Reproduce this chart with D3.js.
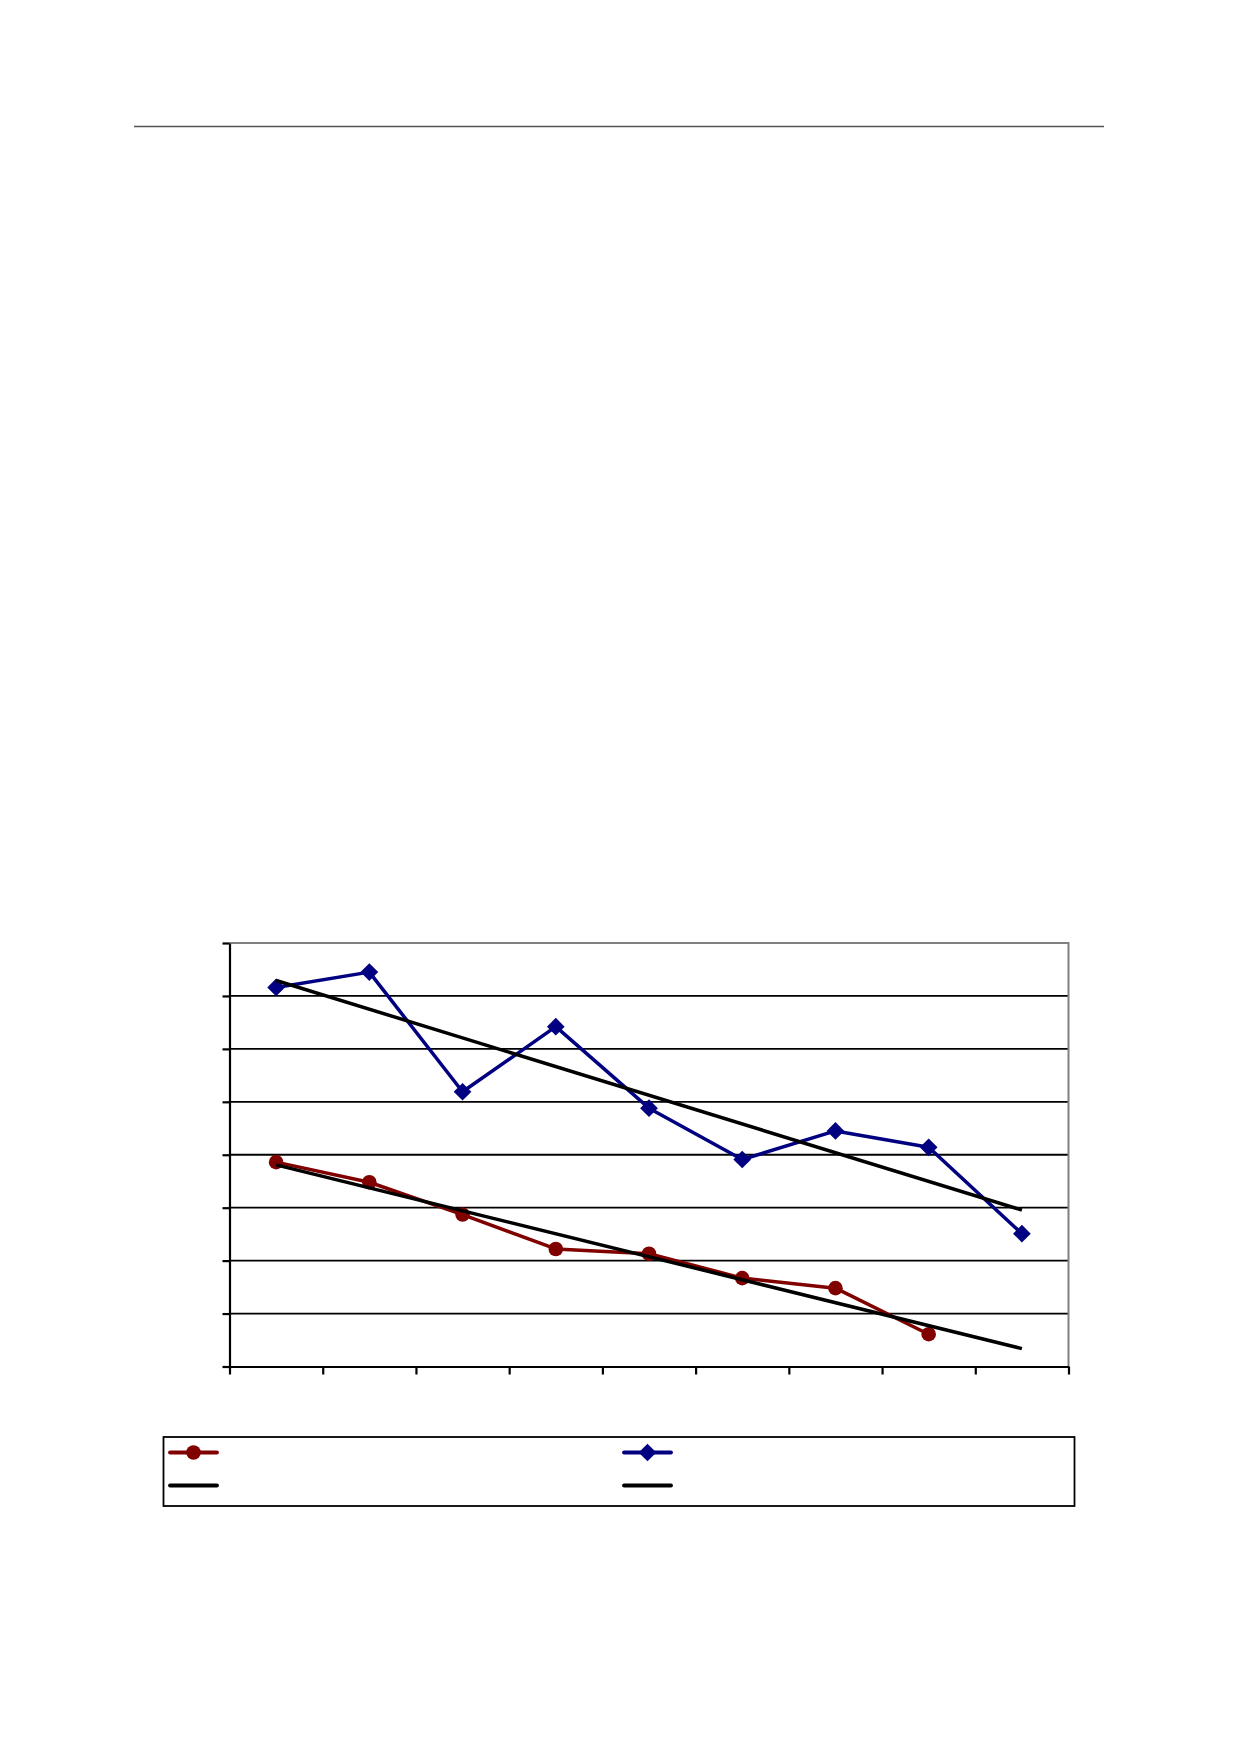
<!DOCTYPE html>
<html>
<head>
<meta charset="utf-8">
<script src="https://cdn.jsdelivr.net/npm/d3@7"></script>
<style>
  html, body { margin: 0; padding: 0; background: #fff; }
  svg { display: block; }
</style>
</head>
<body>
<script>
// ---- data ----
const categories = [1, 2, 3, 4, 5, 6, 7, 8, 9];
const yTicks = [0, 1, 2, 3, 4, 5, 6, 7, 8];
const redSeries = [3.86, 3.48, 2.87, 2.22, 2.13, 1.67, 1.48, 0.61];
const blueSeries = [7.16, 7.45, 5.19, 6.42, 4.88, 3.91, 4.45, 4.14, 2.51];
const trendForward = 1; // red trendline forecast forward one period

const W = 1239, H = 1754;
const svg = d3.select("body").append("svg").attr("width", W).attr("height", H);
svg.append("rect").attr("width", W).attr("height", H).attr("fill", "#fff");

// header rule
svg.append("line").attr("x1", 134).attr("x2", 1104).attr("y1", 126.5).attr("y2", 126.5)
  .attr("stroke", "#555").attr("stroke-width", 1.5);

const plot = { left: 229.5, right: 1068.5, top: 943, bottom: 1366.5 };
const x = d3.scaleLinear().domain([0.5, categories.length + 0.5]).range([plot.left, plot.right]);
const y = d3.scaleLinear().domain([0, 8]).range([plot.bottom, plot.top]);

const g = svg.append("g");

// gridlines
g.selectAll("line.grid").data(yTicks.filter(t => t > 0 && t < 8)).enter().append("line")
  .attr("x1", plot.left).attr("x2", plot.right)
  .attr("y1", d => y(d)).attr("y2", d => y(d))
  .attr("stroke", "#000").attr("stroke-width", 1.8);

// plot-area border (top & right grey)
g.append("path")
  .attr("d", `M${plot.left},${y(8)}H${plot.right}V${plot.bottom}`)
  .attr("fill", "none").attr("stroke", "#808080").attr("stroke-width", 2);

// axes
const yAxis = d3.axisLeft(y).tickValues(yTicks).tickFormat("").tickSizeInner(7).tickSizeOuter(0);
const ya = g.append("g").attr("transform", `translate(${plot.left},0)`).call(yAxis);
const xTickVals = d3.range(0, categories.length + 1).map(i => i + 0.5);
const xAxis = d3.axisBottom(x).tickValues(xTickVals).tickFormat("").tickSizeInner(8).tickSizeOuter(0);
const xa = g.append("g").attr("transform", `translate(0,${plot.bottom})`).call(xAxis);
[ya, xa].forEach(a => {
  a.selectAll("path.domain").attr("stroke", "#000").attr("stroke-width", 2.2);
  a.selectAll(".tick line").attr("stroke", "#000").attr("stroke-width", 2.2);
});

// linear regression trendline
function trend(vals, fwd) {
  const n = vals.length;
  const xs = vals.map((_, i) => i + 1);
  const mx = d3.mean(xs), my = d3.mean(vals);
  const sxy = d3.sum(xs, (xi, i) => (xi - mx) * (vals[i] - my));
  const sxx = d3.sum(xs, xi => (xi - mx) ** 2);
  const b = sxy / sxx, a = my - b * mx;
  return [[1, a + b], [n + fwd, a + b * (n + fwd)]];
}

const line = d3.line().x(d => x(d[0])).y(d => y(d[1]));
const redColor = "#800000", blueColor = "#000080";

const redPts = redSeries.map((v, i) => [categories[i], v]);
const bluePts = blueSeries.map((v, i) => [categories[i], v]);

g.append("path").datum(bluePts).attr("d", line).attr("fill", "none")
  .attr("stroke", blueColor).attr("stroke-width", 3.5).attr("stroke-linejoin", "round");
g.append("path").datum(redPts).attr("d", line).attr("fill", "none")
  .attr("stroke", redColor).attr("stroke-width", 3.5).attr("stroke-linejoin", "round");

const diamond = d3.symbol().type(d3.symbolDiamond2).size(200);
g.selectAll("path.bm").data(bluePts).enter().append("path")
  .attr("transform", d => `translate(${x(d[0])},${y(d[1])})`)
  .attr("d", diamond).attr("fill", blueColor);
g.selectAll("circle.rm").data(redPts).enter().append("circle")
  .attr("cx", d => x(d[0])).attr("cy", d => y(d[1])).attr("r", 7.3)
  .attr("fill", redColor);

// trendlines
g.append("path").datum(trend(blueSeries, 0)).attr("d", line)
  .attr("stroke", "#000").attr("stroke-width", 3.5).attr("fill", "none");
g.append("path").datum(trend(redSeries, trendForward)).attr("d", line)
  .attr("stroke", "#000").attr("stroke-width", 3.5).attr("fill", "none");

// legend
const lg = svg.append("g");
lg.append("rect").attr("x", 163.5).attr("y", 1437).attr("width", 911).attr("height", 69)
  .attr("fill", "#fff").attr("stroke", "#000").attr("stroke-width", 1.8);
const legendItems = [
  { x: 170, y: 1452.5, color: redColor, marker: "circle" },
  { x: 624, y: 1452.5, color: blueColor, marker: "diamond" },
  { x: 170, y: 1485.5, color: "#000", marker: null },
  { x: 624, y: 1485.5, color: "#000", marker: null }
];
legendItems.forEach(it => {
  lg.append("line").attr("x1", it.x).attr("x2", it.x + 47).attr("y1", it.y).attr("y2", it.y)
    .attr("stroke", it.color).attr("stroke-width", 3.8).attr("stroke-linecap", "round");
  if (it.marker === "circle") {
    lg.append("circle").attr("cx", it.x + 23.5).attr("cy", it.y).attr("r", 7.3).attr("fill", it.color);
  } else if (it.marker === "diamond") {
    lg.append("path").attr("transform", `translate(${it.x + 23.5},${it.y})`)
      .attr("d", diamond).attr("fill", it.color);
  }
});
</script>
</body>
</html>
